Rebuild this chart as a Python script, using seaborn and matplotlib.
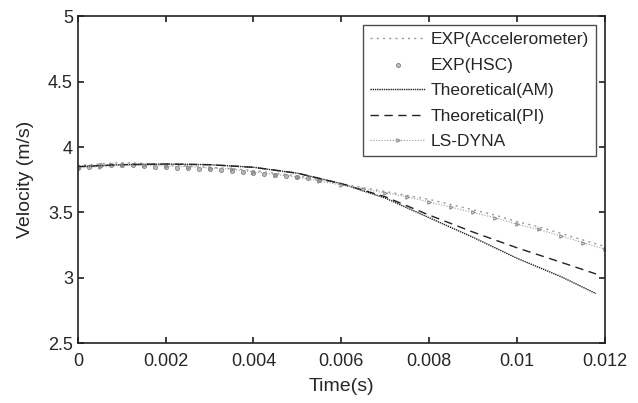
import numpy as np
import pandas as pd
import seaborn as sns
import matplotlib.pyplot as plt

# Values
t_theo = [0, 0.001, 0.002, 0.003, 0.004, 0.005, 0.006, 0.007, 0.008, 0.009, 0.010, 0.011, 0.0118]
v_am = [3.85, 3.865, 3.87, 3.865, 3.845, 3.80, 3.72, 3.61, 3.46, 3.31, 3.15, 3.01, 2.88]
v_pi = [3.85, 3.865, 3.87, 3.865, 3.845, 3.80, 3.72, 3.62, 3.48, 3.35, 3.23, 3.12, 3.03]

t_dyna = [0, 0.0005, 0.001, 0.0015, 0.002, 0.0025, 0.003, 0.0035, 0.004, 0.0045, 0.005, 0.0055,
          0.006, 0.0065, 0.007, 0.0075, 0.008, 0.0085, 0.009, 0.0095, 0.010, 0.0105, 0.011, 0.0115, 0.012]
v_dyna = [3.84, 3.85, 3.86, 3.86, 3.855, 3.85, 3.84, 3.83, 3.81, 3.79, 3.77, 3.74, 3.71,
          3.68, 3.65, 3.62, 3.58, 3.54, 3.50, 3.46, 3.41, 3.37, 3.32, 3.27, 3.22]
v_accel = [3.86, 3.87, 3.88, 3.875, 3.865, 3.855, 3.845, 3.835, 3.82, 3.80, 3.78, 3.75, 3.72,
           3.69, 3.66, 3.63, 3.60, 3.56, 3.52, 3.48, 3.43, 3.39, 3.34, 3.29, 3.24]

t_hsc = [0, 0.00025, 0.0005, 0.00075, 0.001, 0.00125, 0.0015, 0.00175, 0.002, 0.00225, 0.0025,
         0.00275, 0.003, 0.00325, 0.0035, 0.00375, 0.004, 0.00425, 0.0045, 0.00475, 0.005,
         0.00525, 0.0055]
v_hsc = [3.84, 3.85, 3.86, 3.865, 3.865, 3.86, 3.855, 3.85, 3.845, 3.84, 3.84, 3.835, 3.83, 3.825,
         3.82, 3.81, 3.80, 3.795, 3.785, 3.78, 3.77, 3.76, 3.745]

sns.set_theme(style="ticks")
plt.rcParams['font.family'] = ['Liberation Sans', 'DejaVu Sans']

fig, ax = plt.subplots(figsize=(6.38, 4.03), dpi=100)

sns.lineplot(x=t_dyna, y=v_accel, ax=ax, color="#999999", lw=1.0,
             linestyle=(0, (1.5, 3)), label="EXP(Accelerometer)")
sns.scatterplot(x=t_hsc, y=v_hsc, ax=ax, color="#bbbbbb", marker="o", s=9,
                edgecolor="#777777", linewidth=0.5, label="EXP(HSC)")
sns.lineplot(x=t_theo, y=v_am, ax=ax, color="#222222", lw=1.0,
             linestyle=(0, (1, 0.6)), label="Theoretical(AM)")
sns.lineplot(x=t_theo, y=v_pi, ax=ax, color="#222222", lw=1.0,
             linestyle=(0, (6, 4)), label="Theoretical(PI)")
sns.lineplot(x=t_dyna, y=v_dyna, ax=ax, color="#9a9a9a", lw=0.8, linestyle=(0, (1, 1.5)),
             marker=">", markersize=2.5, markerfacecolor="none", markeredgecolor="#888888",
             label="LS-DYNA")

ax.set_xlim(0, 0.012)
ax.set_ylim(2.5, 5)
ax.set_xticks([0, 0.002, 0.004, 0.006, 0.008, 0.01, 0.012])
ax.set_xticklabels(["0", "0.002", "0.004", "0.006", "0.008", "0.01", "0.012"])
ax.set_yticks([2.5, 3, 3.5, 4, 4.5, 5])
ax.set_yticklabels(["2.5", "3", "3.5", "4", "4.5", "5"])
ax.tick_params(direction="in", length=4, labelsize=13, top=True, right=True,
               labeltop=False, labelright=False)
ax.tick_params(axis="x", pad=7)
for s in ax.spines.values():
    s.set_linewidth(1.2)
    s.set_color("#222222")

ax.set_xlabel("Time(s)", fontsize=14, labelpad=6)
ax.set_ylabel("Velocity (m/s)", fontsize=14, labelpad=10)

leg = ax.legend(loc="upper right", fontsize=12.5, frameon=True, fancybox=False,
                handlelength=3.2, borderpad=0.4, labelspacing=0.6, handletextpad=0.3,
                borderaxespad=0, bbox_to_anchor=(0.983, 0.973))
leg.get_frame().set_edgecolor("#222222")
leg.get_frame().set_linewidth(1.0)

fig.subplots_adjust(left=0.122, right=0.948, top=0.96, bottom=0.148)
fig.savefig("out.png", dpi=100)
